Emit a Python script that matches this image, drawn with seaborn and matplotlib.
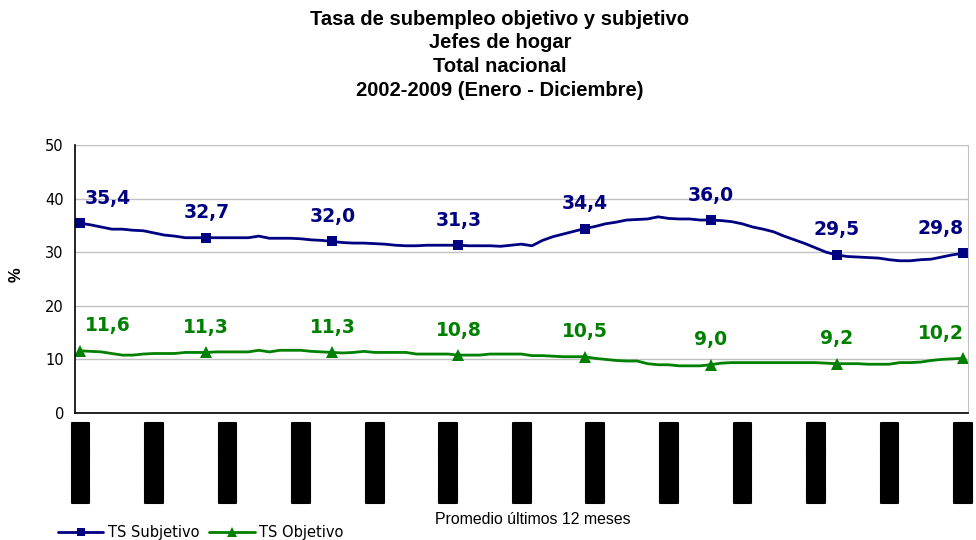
#!/usr/bin/env python3
"""
Tasa de subempleo objetivo y subjetivo - Jefes de hogar, total nacional 2002-2009
"""

import pandas as pd
import matplotlib
matplotlib.use('Agg')
import matplotlib.pyplot as plt
import matplotlib.patheffects as pe
import seaborn as sns
from matplotlib.lines import Line2D

# 数据 (月度, 最近12个月平均)
MONTHS = list(range(85))

TS_SUBJETIVO = [
    35.4, 35.1, 34.7, 34.3, 34.3, 34.1, 34.0, 33.6, 33.2, 33.0, 32.7, 32.7,
    32.7, 32.7, 32.7, 32.7, 32.7, 33.0, 32.6, 32.6, 32.6, 32.5, 32.3, 32.2,
    32.0, 31.8, 31.7, 31.7, 31.6, 31.5, 31.3, 31.2, 31.2, 31.3, 31.3, 31.3,
    31.3, 31.2, 31.2, 31.2, 31.1, 31.3, 31.5, 31.2, 32.2, 32.9, 33.4, 33.9,
    34.4, 34.8, 35.3, 35.6, 36.0, 36.1, 36.2, 36.6, 36.3, 36.2, 36.2, 36.0,
    36.0, 35.9, 35.7, 35.3, 34.7, 34.3, 33.8, 33.0, 32.3, 31.6, 30.8, 30.0,
    29.5, 29.2, 29.1, 29.0, 28.9, 28.6, 28.4, 28.4, 28.6, 28.7, 29.1, 29.5,
    29.8,
]

TS_OBJETIVO = [
    11.6, 11.5, 11.4, 11.1, 10.8, 10.8, 11.0, 11.1, 11.1, 11.1, 11.3, 11.3,
    11.3, 11.4, 11.4, 11.4, 11.4, 11.7, 11.4, 11.7, 11.7, 11.7, 11.5, 11.4,
    11.3, 11.2, 11.3, 11.5, 11.3, 11.3, 11.3, 11.3, 11.0, 11.0, 11.0, 11.0,
    10.8, 10.8, 10.8, 11.0, 11.0, 11.0, 11.0, 10.7, 10.7, 10.6, 10.5, 10.5,
    10.5, 10.2, 10.0, 9.8, 9.7, 9.7, 9.2, 9.0, 9.0, 8.8, 8.8, 8.8,
    9.0, 9.3, 9.4, 9.4, 9.4, 9.4, 9.4, 9.4, 9.4, 9.4, 9.4, 9.3,
    9.2, 9.2, 9.2, 9.1, 9.1, 9.1, 9.4, 9.4, 9.5, 9.8, 10.0, 10.1,
    10.2,
]

# 标注 (每年12月)
LABEL_IDX = [0, 12, 24, 36, 48, 60, 72, 84]
LABELS_SUBJ = ['35,4', '32,7', '32,0', '31,3', '34,4', '36,0', '29,5', '29,8']
LABELS_OBJ = ['11,6', '11,3', '11,3', '10,8', '10,5', '9,0', '9,2', '10,2']

# x轴标签 (原图中为黑色块)
XTICK_POS = list(range(0, 85, 7))
XTICK_LABELS = ['\u2588' * 6] * len(XTICK_POS)

BLUE = '#000080'
GREEN = '#008000'

sns.set_style('white')
plt.rcParams['font.family'] = ['Liberation Sans', 'DejaVu Sans']
plt.rcParams['text.color'] = 'black'
plt.rcParams['axes.labelcolor'] = 'black'
plt.rcParams['xtick.color'] = 'black'
plt.rcParams['ytick.color'] = 'black'

df = pd.DataFrame({'mes': MONTHS, 'subj': TS_SUBJETIVO, 'obj': TS_OBJETIVO})

fig = plt.figure(figsize=(9.76, 5.40), dpi=100)
ax = fig.add_axes([75 / 976, 1 - 413 / 540, (968 - 75) / 976, (413 - 145) / 540])

sns.lineplot(data=df, x='mes', y='subj', ax=ax, color=BLUE, lw=2,
             marker='s', markersize=7, markevery=12, markeredgewidth=0)
sns.lineplot(data=df, x='mes', y='obj', ax=ax, color=GREEN, lw=2,
             marker='^', markersize=8, markevery=12, markeredgewidth=0)

# 数据标签
for k, i in enumerate(LABEL_IDX):
    dx = 0
    if k == 0:
        dx = 20
    elif k == len(LABEL_IDX) - 1:
        dx = -16
    ax.annotate(LABELS_SUBJ[k], (i, TS_SUBJETIVO[i]), xytext=(dx, 18),
                textcoords='offset points', ha='center', va='center',
                fontsize=13.5, fontweight='bold', color=BLUE, family='DejaVu Sans')
    ax.annotate(LABELS_OBJ[k], (i, TS_OBJETIVO[i]), xytext=(dx, 18),
                textcoords='offset points', ha='center', va='center',
                fontsize=13.5, fontweight='bold', color=GREEN, family='DejaVu Sans',
                annotation_clip=False)

ax.set_xlim(-0.5, 84.5)
ax.set_ylim(0, 50)
ax.set_yticks([0, 10, 20, 30, 40, 50])
ax.yaxis.grid(True, color='#c0c0c0', lw=1)
ax.set_axisbelow(True)

ax.set_xticks(XTICK_POS, XTICK_LABELS, rotation=90, fontsize=12.5, family='DejaVu Sans',
              color='black')
for t in ax.get_xticklabels():
    t.set_path_effects([pe.withStroke(linewidth=1.5, foreground='black')])
ax.set_xticks([m + 0.5 for m in range(-1, 85)], minor=True)
ax.tick_params(axis='x', which='major', length=0, pad=7)
ax.tick_params(axis='x', which='minor', length=4, width=1, color='black', direction='out')
ax.tick_params(axis='y', length=5, width=1, color='black', direction='out',
               labelsize=10.5, pad=3)
for t in ax.get_yticklabels():
    t.set_family('DejaVu Sans')

for s in ['left', 'bottom']:
    ax.spines[s].set_color('black')
    ax.spines[s].set_linewidth(1.2)
ax.spines['top'].set_visible(False)
ax.spines['right'].set_color('#c0c0c0')

ax.set_xlabel('')
ax.set_ylabel('')
fig.text(16 / 976, 1 - 275 / 540, '%', rotation=90, ha='center', va='center',
         fontsize=12, fontweight='bold')

fig.text(533 / 976, 1 - 520 / 540, 'Promedio últimos 12 meses', ha='center',
         va='center', fontsize=11.4)

fig.suptitle('Tasa de subempleo objetivo y subjetivo\nJefes de hogar\nTotal nacional\n'
             '2002-2009 (Enero - Diciembre)', x=500 / 976, y=1 - 10 / 540, va='top',
             fontsize=14.5, fontweight='bold', linespacing=1.3)

handles = [Line2D([], [], color=BLUE, lw=2, marker='s', markersize=6, markeredgewidth=0),
           Line2D([], [], color=GREEN, lw=2, marker='^', markersize=7, markeredgewidth=0)]
fig.legend(handles, ['TS Subjetivo', 'TS Objetivo'], loc='center left',
           bbox_to_anchor=(58 / 976, 1 - 533 / 540), ncol=2, frameon=False,
           prop={'family': 'DejaVu Sans', 'size': 10.5}, handlelength=3.1,
           handletextpad=0.3, columnspacing=0.7, borderpad=0, borderaxespad=0)

fig.savefig('out.png', dpi=100)
plt.close(fig)
